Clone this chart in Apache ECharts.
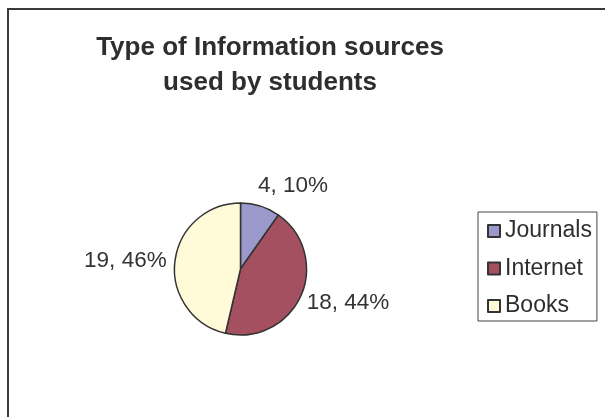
<!DOCTYPE html>
<html>
<head>
<meta charset="utf-8">
<script src="https://cdn.jsdelivr.net/npm/echarts@6/dist/echarts.min.js"></script>
<style>
html,body{margin:0;padding:0;background:#fff;}
#chart{width:605px;height:417px;}
</style>
</head>
<body>
<div id="chart"></div>
<script>
var titleText = 'Type of Information sources\nused by students';
var categories = ['Journals', 'Internet', 'Books'];
var values = [4, 18, 19];
var colors = ['#9b98cb', '#a45060', '#fffbd9'];
var labelLen = [21.6, 17.3, 3.6];
var labelLen2 = [-14, -14.8, -0.3];

var chart = echarts.init(document.getElementById('chart'));
var data = categories.map(function (c, i) {
  return {
    name: c,
    value: values[i],
    itemStyle: { color: colors[i] },
    labelLine: { show: false, length: labelLen[i], length2: labelLen2[i] }
  };
});
chart.setOption({
  animation: false,
  textStyle: { fontFamily: 'Liberation Sans, Arial, sans-serif' },
  graphic: [{
    type: 'rect',
    shape: { x: 8, y: 9, width: 700, height: 500 },
    style: { fill: 'none', stroke: '#3a3a3a', lineWidth: 2 },
    silent: true
  }],
  title: {
    text: titleText,
    left: 265,
    top: 25,
    textAlign: 'center',
    textStyle: {
      fontSize: 26, fontWeight: 'bold', color: '#2e2e2e', lineHeight: 35,
      fontFamily: 'Liberation Sans, Arial, sans-serif'
    }
  },
  legend: {
    orient: 'vertical',
    left: 478,
    top: 212,
    padding: [7.5, 5, 3.5, 9],
    itemWidth: 12,
    itemHeight: 12,
    itemGap: 14.5,
    itemTextGap: 9,
    borderColor: '#444',
    borderWidth: 1,
    icon: 'rect',
    data: categories,
    textStyle: { fontSize: 23, color: '#2e2e2e', fontFamily: 'Liberation Sans, Arial, sans-serif' }
  },
  series: [{
    type: 'pie',
    center: [240.5, 269],
    radius: 66,
    startAngle: 90,
    clockwise: true,
    avoidLabelOverlap: false,
    itemStyle: { borderColor: '#333', borderWidth: 1.5 },
    emphasis: { disabled: true },
    label: {
      show: true,
      position: 'outside',
      distanceToLabelLine: 5,
      fontSize: 22.5,
      color: '#333',
      fontFamily: 'Liberation Sans, Arial, sans-serif',
      formatter: function (p) { return p.value + ', ' + Math.round(p.percent) + '%'; }
    },
    labelLine: { show: false },
    data: data
  }]
});
</script>
</body>
</html>
